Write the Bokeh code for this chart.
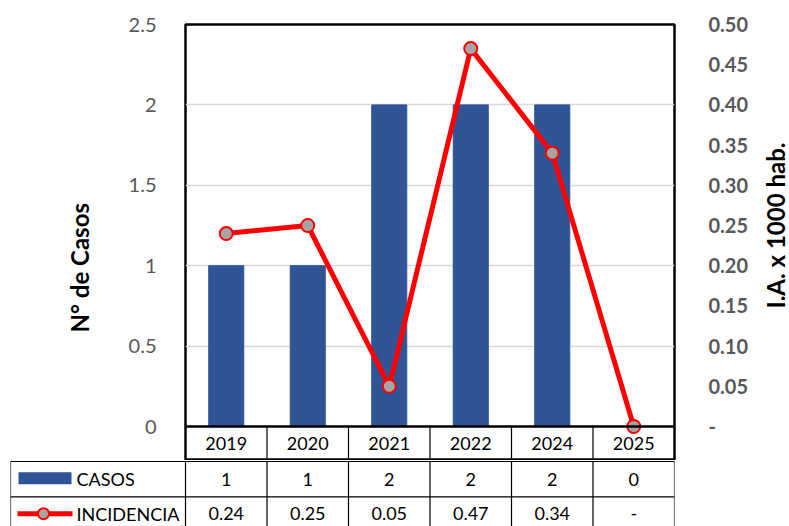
from math import pi
from bokeh.plotting import figure
from bokeh.models import (Range1d, FactorRange, LinearAxis, FixedTicker, Span, Title,
                          CustomJSTickFormatter)
from bokeh.layouts import row
from bokeh.core.properties import value
from bokeh.embed import file_html
from bokeh.resources import INLINE

# ---------------- data ----------------
years = ["2019", "2020", "2021", "2022", "2024", "2025"]
casos = [1, 1, 2, 2, 2, 0]
incidencia = [0.24, 0.25, 0.05, 0.47, 0.34, 0.0]
left_ticks = [0, 0.5, 1, 1.5, 2, 2.5]
right_ticks = [0, 0.05, 0.10, 0.15, 0.20, 0.25, 0.30, 0.35, 0.40, 0.45, 0.50]
series_names = ["CASOS", "INCIDENCIA"]
left_title = "N° de Casos"
right_title = "I.A. x 1000 hab."

# ---------------- style / layout ----------------
FONT = "Lato"
BAR_COLOR = "#2F5597"
LINE_COLOR = "#FF0000"
MARK_FILL = "#A5A5A5"
TICK_COLOR = "#595959"
W = 789
TITLE_W = 31            # strip on the right holding the right-hand title
W1 = W - TITLE_W
FRAME_L, FRAME_T = 185, 24
FRAME_R = 115
PLOT_H = 402            # pixel height of the 0..2.5 area
HEADER_H = 34           # year row of the data table
H1 = FRAME_T + PLOT_H + HEADER_H
FRAME_W = W - FRAME_L - FRAME_R
PX_PER_UNIT = PLOT_H / 2.5
Y0 = -HEADER_H / PX_PER_UNIT
RATIO = 0.5 / 2.5
LEG_W = 175

# ---------------- chart (with year header row) ----------------
p1 = figure(x_range=FactorRange(*years, range_padding=0), y_range=Range1d(Y0, 2.5),
            width=W1, height=H1, output_backend="svg",
            toolbar_location=None, min_border_left=FRAME_L, min_border_right=W1 - FRAME_L - FRAME_W,
            min_border_top=FRAME_T, min_border_bottom=0, x_axis_location=None)
p1.extra_y_ranges = {"ia": Range1d(Y0 * RATIO, 0.5)}
p1.outline_line_color = "black"
p1.outline_line_width = 2.5
p1.background_fill_color = "white"
p1.border_fill_color = "white"

p1.ygrid.ticker = FixedTicker(ticks=left_ticks)
p1.ygrid.grid_line_color = "#D9D9D9"
p1.ygrid.grid_line_width = 1.5
p1.xgrid.visible = False

p1.vbar(x=years, top=casos, width=0.43, color=BAR_COLOR)
p1.add_layout(Span(location=0, dimension="width", line_color="black", line_width=2.5))
p1.line(x=years, y=incidencia, y_range_name="ia", line_color=LINE_COLOR, line_width=5)
p1.scatter(x=years, y=incidencia, y_range_name="ia", size=13, fill_color=MARK_FILL,
           line_color=LINE_COLOR, line_width=2)

# header row of the table: column separators + year labels
sep = list(range(1, len(years)))
p1.segment(x0=sep, x1=sep, y0=[Y0] * len(sep), y1=[0] * len(sep),
           line_color="black", line_width=1.2)
p1.text(x=years, y=[Y0 / 2] * len(years), text=years, text_align="center",
        text_baseline="middle", text_font=value(FONT), text_font_size=value("18px"),
        text_color="black")

ya = p1.yaxis[0]
ya.ticker = FixedTicker(ticks=left_ticks)
ya.axis_line_color = None
ya.major_tick_line_color = None
ya.minor_tick_line_color = None
ya.major_label_standoff = 23
ya.major_label_text_font = FONT
ya.major_label_text_font_size = "20px"
ya.major_label_text_color = TICK_COLOR

ra = LinearAxis(y_range_name="ia", ticker=FixedTicker(ticks=right_ticks),
                formatter=CustomJSTickFormatter(code="return tick == 0 ? '-' : tick.toFixed(2);"))
ra.axis_line_color = None
ra.major_tick_line_color = None
ra.minor_tick_line_color = None
ra.major_label_standoff = 28
ra.major_label_text_font = FONT
ra.major_label_text_font_size = "20px"
ra.major_label_text_font_style = "bold"
ra.major_label_text_color = TICK_COLOR
p1.add_layout(ra, "right")

# left title placed precisely along the axis
p1.add_layout(Title(text=left_title, align="left", offset=128, vertical_align="middle",
                    standoff=61, text_font=FONT, text_font_size="24px",
                    text_font_style="bold", text_color="black"), "left")

# right title strip (reads bottom-to-top, centred on the 0.25 level)
p3 = figure(width=TITLE_W, height=H1, x_range=Range1d(0, 1), y_range=p1.y_range,
            min_border_left=0, min_border_right=0, min_border_top=FRAME_T, min_border_bottom=0,
            x_axis_location=None, y_axis_location=None, toolbar_location=None,
            output_backend="svg", outline_line_color=None)
p3.grid.visible = False
p3.text(x=[0.55], y=[1.25], text=[right_title], angle=pi / 2, text_align="center",
        text_baseline="middle", text_font=value(FONT), text_font_size=value("24px"),
        text_font_style="bold", text_color="black")

top = row(p1, p3)

# ---------------- data table rows ----------------
H2 = 66
p2 = figure(width=W, height=H2, x_range=Range1d(-LEG_W, FRAME_W), y_range=Range1d(H2, -1),
            min_border_left=FRAME_L - LEG_W, min_border_right=FRAME_R, min_border_top=0,
            min_border_bottom=0, x_axis_location=None, y_axis_location=None,
            toolbar_location=None, output_backend="svg", outline_line_color=None)
p2.grid.visible = False

ROW_Y = [18, 53]
LINE_Y = [0, 36]
col_w = FRAME_W / len(years)
centers = [(i + 0.5) * col_w for i in range(len(years))]
vx = [-LEG_W] + [i * col_w for i in range(len(years) + 1)]

p2.segment(x0=vx, x1=vx, y0=[0] * len(vx), y1=[H2] * len(vx), line_color="black", line_width=1.2)
p2.segment(x0=[-LEG_W] * 2, x1=[FRAME_W] * 2, y0=LINE_Y, y1=LINE_Y, line_color="black",
           line_width=1.2)

txt = dict(text_font=value(FONT), text_font_size=value("18px"), text_color="black",
           text_baseline="middle")
p2.text(x=centers, y=[ROW_Y[0]] * len(years), text=[str(c) for c in casos],
        text_align="center", **txt)
p2.text(x=centers, y=[ROW_Y[1]] * len(years),
        text=[f"{v:.2f}" if v else "-" for v in incidencia], text_align="center", **txt)

# legend keys
p2.quad(left=[-167], right=[-114], top=[11], bottom=[23], fill_color=BAR_COLOR, line_color=None)
p2.segment(x0=[-168], x1=[-113], y0=[ROW_Y[1]], y1=[ROW_Y[1]], line_color=LINE_COLOR, line_width=5)
p2.scatter(x=[-142], y=[ROW_Y[1]], size=11, fill_color=MARK_FILL, line_color=LINE_COLOR,
           line_width=2)
p2.text(x=[-109, -109], y=ROW_Y, text=series_names, text_align="left", **txt)

open("out.html", "w").write(file_html([top, p2], INLINE))
